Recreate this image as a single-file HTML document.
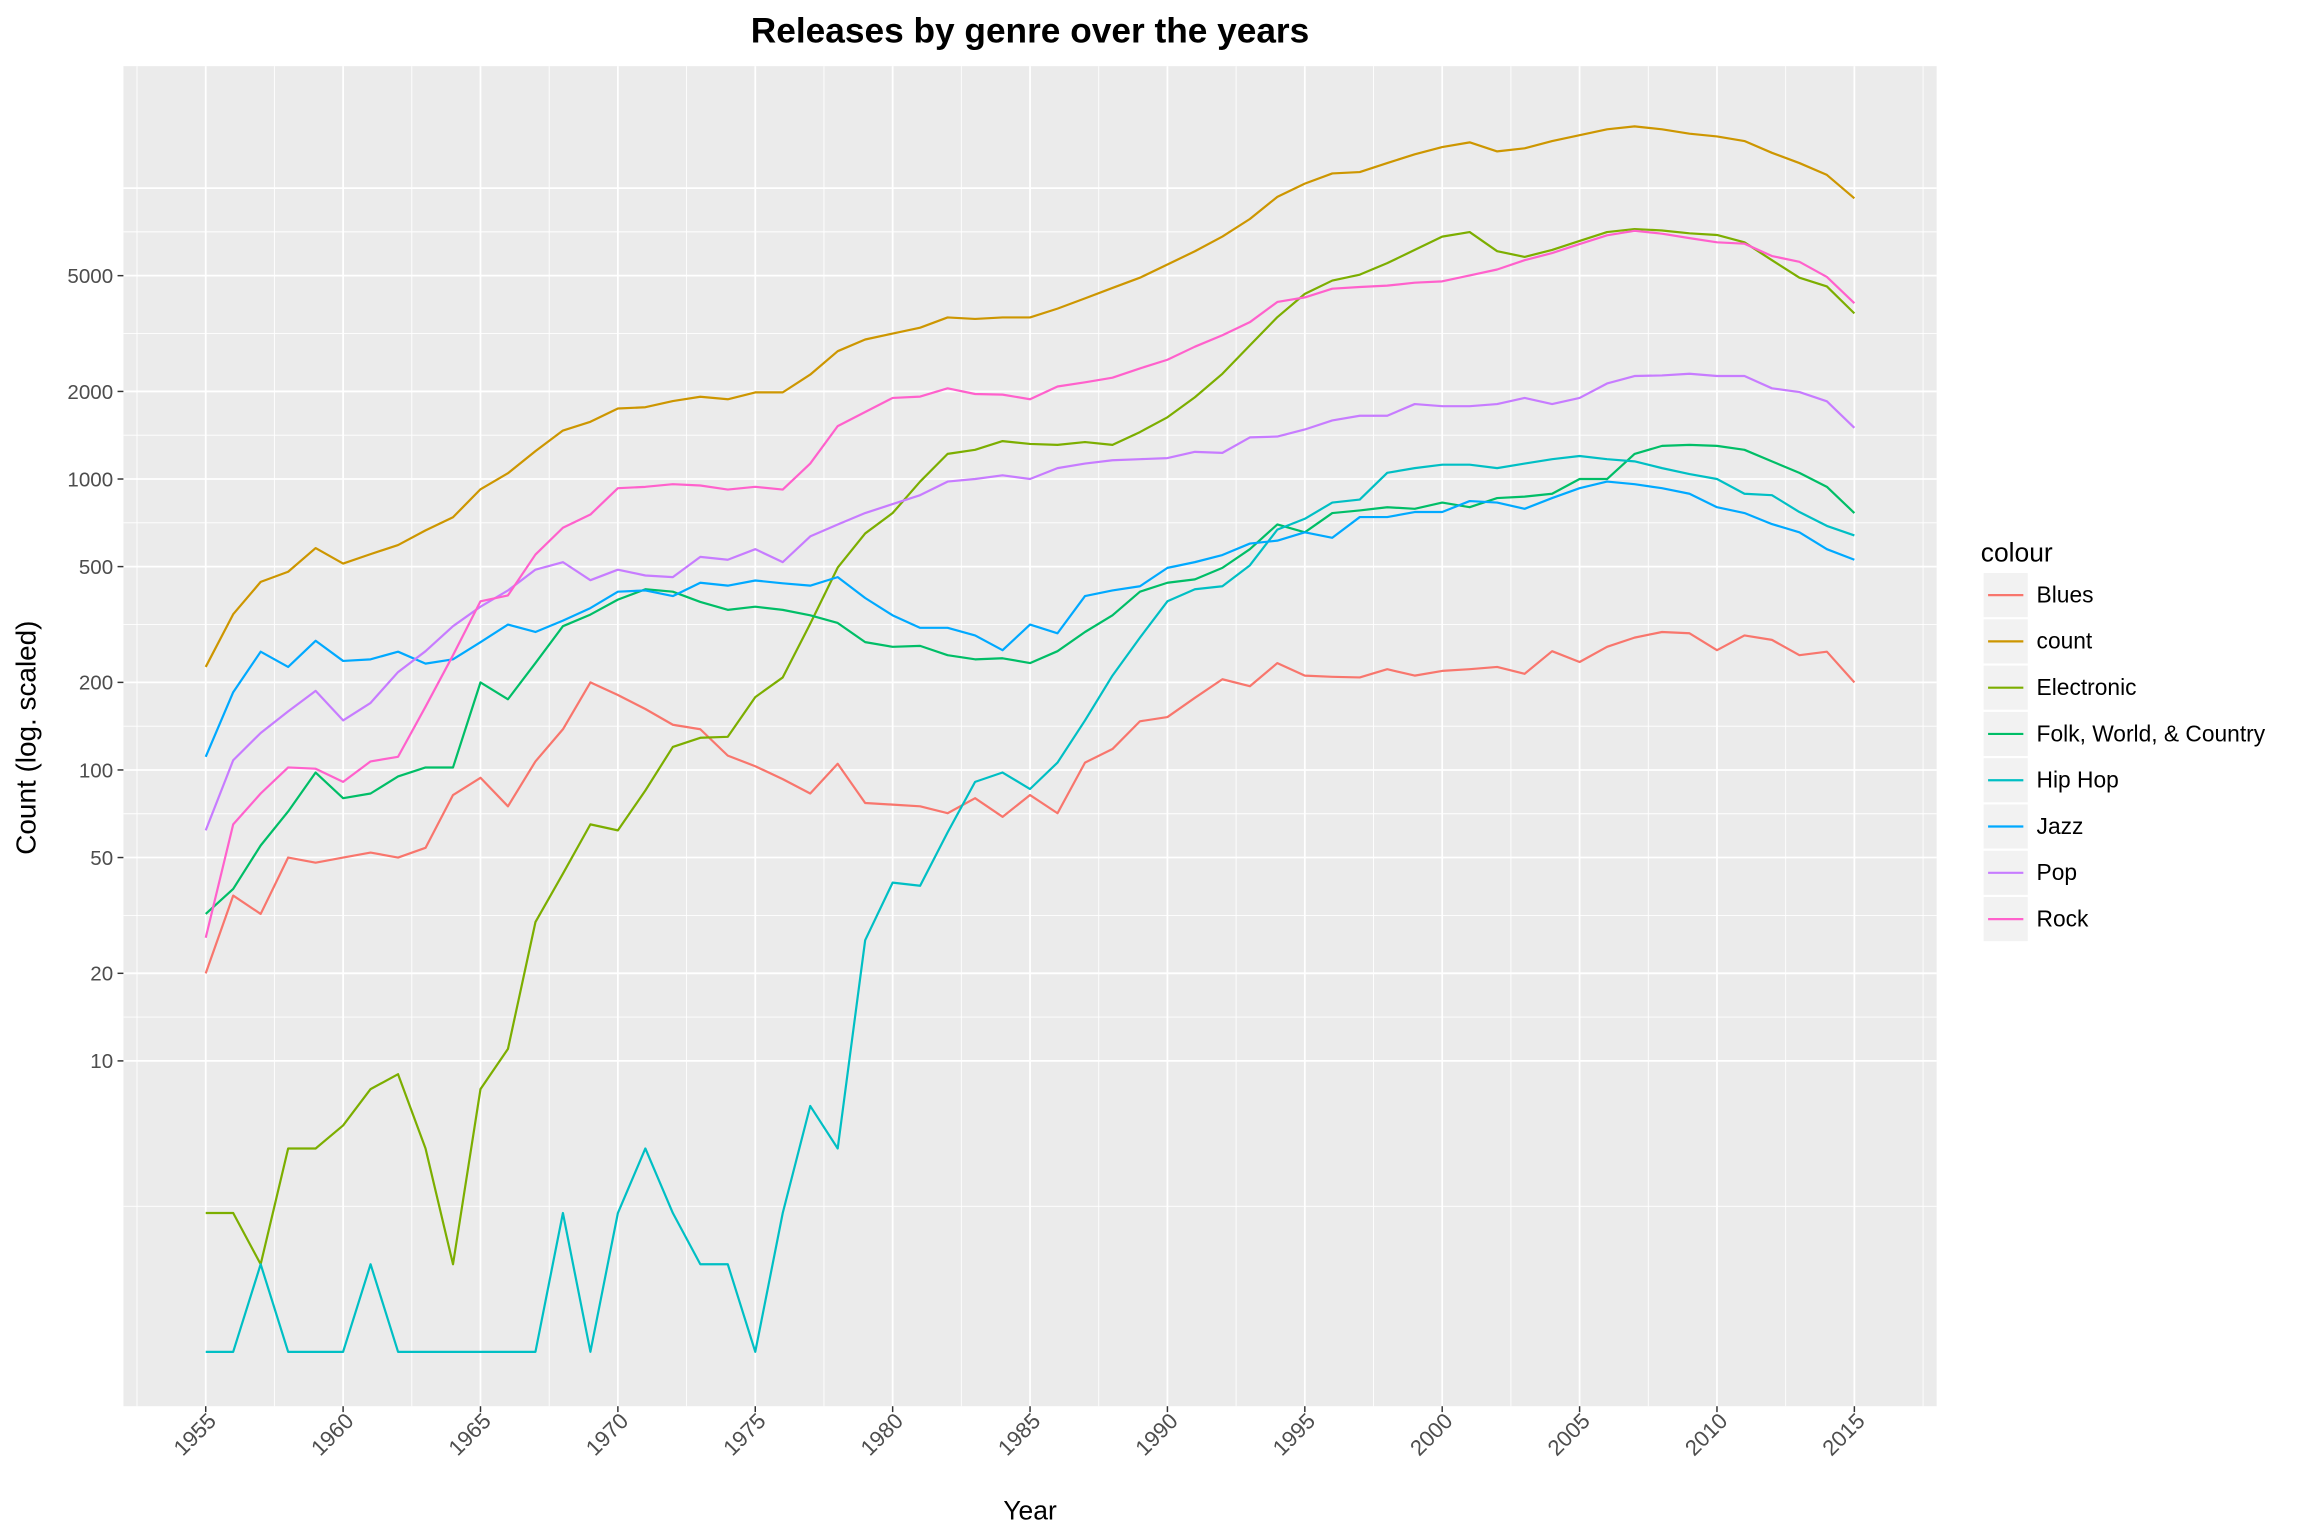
<!DOCTYPE html>
<html><head><meta charset="utf-8"><style>
html,body{margin:0;padding:0;background:#fff}
svg{display:block;font-family:"Liberation Sans",Arial,sans-serif}
</style></head><body>
<svg id="chart" width="2304" height="1536" viewBox="0 0 1568 1045" preserveAspectRatio="xMinYMin meet" xmlns="http://www.w3.org/2000/svg">
<rect width="1568" height="1045" fill="#fff"/>
<text x="701" y="29" text-anchor="middle" font-size="24" font-weight="bold" fill="#000">Releases by genre over the years</text>
<rect x="84" y="45" width="1234" height="912" fill="#ebebeb"/>
<g id="grid"></g>
<g id="lines"></g>
<g id="axes"></g>
<text x="701" y="1034" text-anchor="middle" font-size="18" fill="#000">Year</text>
<text transform="translate(24,502) rotate(-90)" text-anchor="middle" font-size="19" fill="#000">Count (log. scaled)</text>
<g id="legend">
<text x="1348" y="382" font-size="18" fill="#000">colour</text>
</g>
</svg>
<script>
const years = [];
for (let y = 1955; y <= 2015; y++) years.push(y);
const seriesNames = ["Blues","count","Electronic","Folk, World, & Country","Hip Hop","Jazz","Pop","Rock"];
const blues = [20,37,32,50,48,50,52,50,54,82,94,75,107,138,200,181,162,143,138,112,103,93,83,105,77,76,75,71,80,69,82,71,106,118,147,152,177,205,194,233,211,209,208,222,211,219,222,226,214,256,235,265,285,298,295,258,290,280,248,255,200];
const countAll = [226,343,443,480,579,512,552,593,666,739,922,1047,1247,1468,1573,1747,1765,1853,1918,1880,1985,1985,2285,2750,3017,3162,3312,3593,3550,3593,3593,3852,4178,4538,4920,5462,6066,6813,7830,9330,10360,11230,11350,12190,13060,13840,14360,13370,13700,14510,15200,15920,16300,15920,15380,15050,14510,13220,12190,11100,9220];
const electronic = [3,3,2,5,5,6,8,9,5,2,8,11,30,44,65,62,85,120,129,130,178,208,318,496,650,764,980,1220,1260,1350,1320,1310,1340,1310,1450,1630,1910,2300,2880,3600,4330,4810,5040,5520,6130,6810,7060,6070,5800,6130,6580,7060,7230,7150,6990,6900,6510,5650,4920,4590,3710];
const folk = [32,39,55,72,98,80,83,95,102,102,200,175,233,312,342,385,418,410,378,355,364,355,340,320,275,265,267,248,240,242,233,256,298,340,410,440,452,495,574,698,656,764,780,800,790,830,800,860,870,890,1000,1000,1220,1300,1310,1300,1260,1150,1050,940,764];
const hiphop = [1,1,2,1,1,1,2,1,1,1,1,1,1,3,1,3,5,3,2,2,1,3,7,5,26,41,40,61,91,98,86,106,148,211,285,380,418,428,505,670,730,830,850,1050,1090,1120,1120,1090,1130,1170,1200,1170,1150,1090,1040,1000,890,880,770,690,640];
const jazz = [111,185,255,226,278,237,240,255,232,240,275,316,298,326,360,410,414,396,440,430,448,438,430,460,390,340,308,308,290,258,316,295,396,414,428,495,518,548,600,614,656,628,740,740,770,770,840,830,790,860,930,980,960,930,890,800,764,700,656,574,528];
const pop = [62,108,134,159,187,148,170,217,256,312,364,414,488,518,449,488,466,460,540,528,574,518,635,698,764,820,880,980,1000,1030,1000,1090,1130,1160,1170,1180,1240,1230,1390,1400,1480,1590,1650,1650,1810,1780,1780,1810,1900,1810,1900,2130,2260,2270,2300,2260,2260,2050,1990,1850,1500];
const rock = [26.5,65,83,102,101,91,107,111,165,248,380,398,550,680,755,930,940,960,950,920,940,920,1130,1520,1700,1900,1920,2050,1960,1950,1880,2080,2150,2230,2400,2570,2850,3120,3460,4060,4210,4510,4570,4620,4730,4780,5010,5250,5650,5980,6420,6880,7130,6970,6730,6510,6440,5840,5580,4950,4020];
const xTicks = [1955,1960,1965,1970,1975,1980,1985,1990,1995,2000,2005,2010,2015];
const yTicks = [10,20,50,100,200,500,1000,2000,5000];

const allSeries = [blues,countAll,electronic,folk,hiphop,jazz,pop,rock];
const colors = ["#F8766D","#CD9600","#7CAE00","#00BE67","#00BFC4","#00A9FF","#C77CFF","#FF61CC"];
const NS = "http://www.w3.org/2000/svg";
const PX0 = 84, PX1 = 1318, PY0 = 45, PY1 = 957;
function xs(yr){ return 140 + (yr - 1955) * (1262 - 140) / 60; }
function ys(v){ return 920 - Math.log10(v) * 198; }
function mk(tag, attrs, parent){ const e = document.createElementNS(NS, tag); for (const k in attrs) e.setAttribute(k, attrs[k]); parent.appendChild(e); return e; }

const grid = document.getElementById('grid');
const axes = document.getElementById('axes');
const yMajLog = [0].concat(yTicks.map(v=>Math.log10(v))).concat([4]);
for (let i = 0; i < yMajLog.length - 1; i++) {
  const m = (yMajLog[i] + yMajLog[i+1]) / 2;
  const y = 920 - m * 198;
  if (y > PY0 && y < PY1) {
    const l = mk('line', {x1:PX0, x2:PX1, y1:y, y2:y, stroke:'#fff', 'stroke-width':0.6}, grid);
    
    
  }
}
{
  const yl = ys(10000);
  const l = mk('line', {x1:PX0, x2:PX1, y1:yl, y2:yl, stroke:'#fff', 'stroke-width':1.2}, grid);
  
  
}
for (let yr = 1952.5; yr <= 2017.5; yr += 5) {
  const x = xs(yr);
  if (x > PX0 && x < PX1) {
    const l = mk('line', {x1:x, x2:x, y1:PY0, y2:PY1, stroke:'#fff', 'stroke-width':0.6}, grid);
    
    
  }
}
yTicks.forEach(v => {
  const y = ys(v);
  const l = mk('line', {x1:PX0, x2:PX1, y1:y, y2:y, stroke:'#fff', 'stroke-width':1.2}, grid);
  
  
  const t = mk('line', {x1:PX0-4, x2:PX0, y1:y, y2:y, stroke:'#333', 'stroke-width':1}, axes);
  
  
  const tx = mk('text', {x:PX0-7, y:y+5, 'text-anchor':'end', 'font-size':14, fill:'#4d4d4d'}, axes);
  tx.textContent = v;
  
  
});
xTicks.forEach(yr => {
  const x = xs(yr);
  const l = mk('line', {x1:x, x2:x, y1:PY0, y2:PY1, stroke:'#fff', 'stroke-width':1.2}, grid);
  
  
  const t = mk('line', {x1:x, x2:x, y1:PY1, y2:PY1+4, stroke:'#333', 'stroke-width':1}, axes);
  
  
  const tx = mk('text', {transform:`translate(${x+8},${PY1+11}) rotate(-45)`, 'text-anchor':'end', 'font-size':15, fill:'#4d4d4d'}, axes);
  tx.textContent = yr;
  
  
});

const linesG = document.getElementById('lines');
allSeries.forEach((s, i) => {
  const d = s.map((v, j) => (j ? 'L' : 'M') + xs(years[j]).toFixed(2) + ',' + ys(v).toFixed(2)).join('');
  const p = mk('path', {d:d, fill:'none', stroke:colors[i], 'stroke-width':1.5, 'stroke-linejoin':'round'}, linesG);
  
  
});

const legend = document.getElementById('legend');
seriesNames.forEach((n, i) => {
  const y = 390 + i * 31.5;
  const g = mk('g', {}, legend);
  
  
  mk('rect', {x:1350, y:y, width:30, height:30, fill:'#f2f2f2'}, g);
  mk('line', {x1:1353, x2:1377, y1:y+15, y2:y+15, stroke:colors[i], 'stroke-width':1.5}, g);
  const t = mk('text', {x:1386, y:y+20, 'font-size':15.5, fill:'#000'}, g);
  t.textContent = n;
});
</script>
</body></html>
